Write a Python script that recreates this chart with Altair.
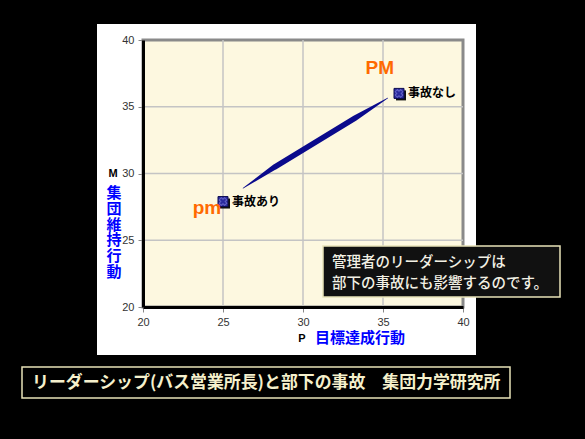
import altair as alt
import pandas as pd

# Average P (performance) and M (maintenance) scores of bus office managers
groups = ["事故あり", "事故なし"]
p_scores = [25.0, 36.0]
m_scores = [27.9, 36.0]

# Tapered arrow from the accident group toward the no-accident group
trail_p = [26.25, 28.25, 33.25, 35.3]
trail_m = [28.9, 30.5, 34.15, 35.65]
trail_w = [0.6, 5.5, 5.5, 0.6]

# Leadership-type labels placed in PM space
type_labels = ["PM", "pm"]
type_p = [34.8, 24.0]
type_m = [37.9, 27.4]

tick_values = [20, 25, 30, 35, 40]
grid_values = [25, 30, 35]

note_lines = ["管理者のリーダーシップは", "部下の事故にも影響するのです。"]
footer_text = "リーダーシップ(バス営業所長)と部下の事故\u3000集団力学研究所"
y_title = "集団維持行動"
x_title = "目標達成行動"

JP = "Noto Sans CJK JP"
W, H = 320, 267

one = pd.DataFrame({"k": [0]})
pts = pd.DataFrame({"group": groups, "P": p_scores, "M": m_scores})
trail_df = pd.DataFrame({"P": trail_p, "M": trail_m, "w": trail_w, "o": range(len(trail_p))})
types = pd.DataFrame({"label": type_labels, "P": type_p, "M": type_m})
vgrid = pd.DataFrame({"v": grid_values})

xscale = alt.Scale(domain=[20, 40], nice=False, zero=False)
yscale = alt.Scale(domain=[20, 40], nice=False, zero=False)

axis_common = dict(
    values=tick_values, grid=False, domainColor="black", domainWidth=3,
    tickColor="#888888", tickSize=5, labelFont="Liberation Sans", labelFontSize=11,
    labelColor="#333333", title=None, zindex=1, labelPadding=4, labelFlush=False,
)
x_axis = alt.Axis(**axis_common)
y_axis = alt.Axis(**axis_common)

# white panel behind the whole plot
panel = alt.Chart(one).mark_rect(fill="white").encode(
    x=alt.value(-46), x2=alt.value(333), y=alt.value(-16), y2=alt.value(315)
)

# cream plot background with grey top/right frame
plot_bg = alt.Chart(one).mark_rect(fill="#FDF8E0", stroke="#8A8A8A", strokeWidth=3).encode(
    x=alt.value(0), x2=alt.value(W), y=alt.value(0), y2=alt.value(H)
)

vrules = alt.Chart(vgrid).mark_rule(color="#C4C4C4", strokeWidth=1.5).encode(
    x=alt.X("v:Q", scale=xscale, axis=x_axis)
)
hrules = alt.Chart(vgrid).mark_rule(color="#C4C4C4", strokeWidth=1.5).encode(
    y=alt.Y("v:Q", scale=yscale, axis=y_axis)
)

trail = alt.Chart(trail_df).mark_trail(color="#0A0A8C").encode(
    x=alt.X("P:Q", scale=xscale, axis=x_axis),
    y=alt.Y("M:Q", scale=yscale, axis=y_axis),
    order="o:O",
    size=alt.Size("w:Q", scale=None, legend=None),
)

pos = dict(x=alt.X("P:Q", scale=xscale, axis=x_axis), y=alt.Y("M:Q", scale=yscale, axis=y_axis))

shadow = alt.Chart(pts).mark_point(shape="square", filled=True, color="#111111", size=100, opacity=1).encode(
    xOffset=alt.value(2), yOffset=alt.value(2), **pos
)
marker = alt.Chart(pts).mark_point(
    shape="square", filled=True, fill="#2B2B9E", stroke="#0D0D50", strokeWidth=1, size=100, opacity=1
).encode(**pos)
cross = alt.Chart(pts).mark_point(shape="cross", angle=45, filled=False, stroke="#7C7CD8", strokeWidth=1, size=60).encode(**pos)
group_text = alt.Chart(pts).mark_text(
    align="left", dx=9, font=JP, fontWeight="bold", fontSize=12, color="black"
).encode(text="group:N", **pos)

type_text = alt.Chart(types).mark_text(
    font="Liberation Sans", fontWeight="bold", fontSize=19, color="#FF6A00"
).encode(text="label:N", **pos)

# axis titles
m_letter = alt.Chart(one).mark_text(font="Liberation Sans", fontWeight="bold", fontSize=11, color="black").encode(
    x=alt.value(-30), y=alt.value(134), text=alt.value("M")
)
y_name = alt.Chart(pd.DataFrame({"t": ["\n".join(y_title)]})).mark_text(
    font=JP, fontWeight="bold", fontSize=15, color="#0000FF", lineBreak="\n", lineHeight=15.8, baseline="top"
).encode(x=alt.value(-29), y=alt.value(146), text="t:N")
p_letter = alt.Chart(one).mark_text(font="Liberation Sans", fontWeight="bold", fontSize=11, color="black").encode(
    x=alt.value(159), y=alt.value(299), text=alt.value("P")
)
x_name = alt.Chart(pd.DataFrame({"t": [x_title]})).mark_text(
    font=JP, fontWeight="bold", fontSize=15, color="#0000FF", align="left"
).encode(x=alt.value(172), y=alt.value(298), text="t:N")

# callout box
note_box = alt.Chart(one).mark_rect(fill="#111111", stroke="#E8E2B8", strokeWidth=1.5).encode(
    x=alt.value(180), x2=alt.value(417), y=alt.value(206), y2=alt.value(257)
)
note = alt.Chart(pd.DataFrame({"t": ["\n".join(note_lines)]})).mark_text(
    font=JP, fontSize=14.5, color="#F2F0E4", align="left", baseline="top",
    lineBreak="\n", lineHeight=21, fontWeight=500
).encode(x=alt.value(189), y=alt.value(216), text="t:N")

# footer banner
footer_box = alt.Chart(one).mark_rect(fill="black", stroke="#E8E2B8", strokeWidth=1.5).encode(
    x=alt.value(-121), x2=alt.value(367), y=alt.value(327), y2=alt.value(358)
)
footer = alt.Chart(pd.DataFrame({"t": [footer_text]})).mark_text(
    font=JP, fontWeight="bold", fontSize=16.9, color="#F5F0CC", align="left"
).encode(x=alt.value(-111), y=alt.value(343), text="t:N")

chart = alt.layer(
    panel, plot_bg, vrules, hrules, trail, shadow, marker, cross, group_text, type_text,
    m_letter, y_name, p_letter, x_name, note_box, note, footer_box, footer,
).properties(
    width=W, height=H,
    autosize=alt.AutoSizeParams(type="none"),
    padding={"left": 143, "top": 40, "right": 122, "bottom": 132},
    background="black",
).configure_view(stroke=None)

chart.save("out.html", embed_options={"renderer": "svg", "actions": False})
